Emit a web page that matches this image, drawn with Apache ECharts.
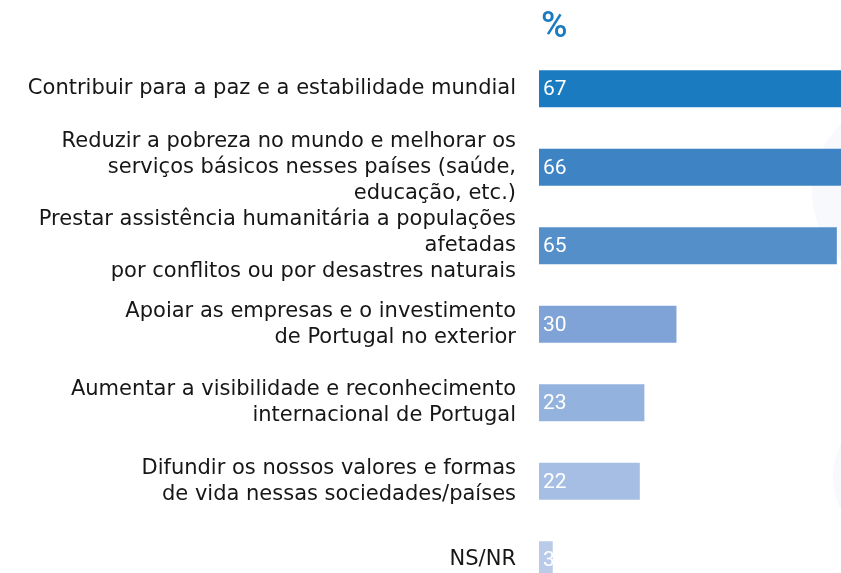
<!DOCTYPE html>
<html>
<head>
<meta charset="utf-8">
<script src="https://cdn.jsdelivr.net/npm/echarts@6/dist/echarts.min.js"></script>
<style>
  html, body { margin: 0; padding: 0; background: #fff; }
  #chart { width: 841px; height: 573px; }
</style>
</head>
<body>
<div id="chart"></div>
<script>
var categories = [
  'Contribuir para a paz e a estabilidade mundial',
  'Reduzir a pobreza no mundo e melhorar os\nserviços básicos nesses países (saúde,\neducação, etc.)',
  'Prestar assistência humanitária a populações\nafetadas\npor conflitos ou por desastres naturais',
  'Apoiar as empresas e o investimento\nde Portugal no exterior',
  'Aumentar a visibilidade e reconhecimento\ninternacional de Portugal',
  'Difundir os nossos valores e formas\nde vida nessas sociedades/países',
  'NS/NR'
];
var values = [67, 66, 65, 30, 23, 22, 3];
var barColors = ['#1a7bc1', '#3e83c4', '#558fca', '#7fa3d6', '#93b2dd', '#a6bee3', '#bacbe9'];

var chart = echarts.init(document.getElementById('chart'));

chart.setOption({
  animation: false,
  title: {
    text: '%',
    left: 536,
    top: 5,
    textStyle: { color: '#1a7bc1', fontSize: 36, fontWeight: 500, fontFamily: 'Roboto' }
  },
  // faint decorative circles on the right edge
  graphic: [
    { type: 'circle', z: -10, shape: { cx: 905, cy: 192, r: 93 }, style: { fill: '#f7f9fc' } },
    { type: 'circle', z: -10, shape: { cx: 905, cy: 477, r: 72 }, style: { fill: '#f7f9fc' } }
  ],
  grid: { left: 539, top: 49.5, width: 307, height: 549.5, outerBoundsMode: 'none' },
  xAxis: {
    type: 'value',
    min: 0,
    max: 67,
    show: false
  },
  yAxis: {
    type: 'category',
    inverse: true,
    data: categories,
    axisLine: { show: false },
    axisTick: { show: false },
    axisLabel: {
      margin: 23,
      color: '#161616',
      fontSize: 21,
      lineHeight: 26,
      fontFamily: 'DejaVu Sans',
      align: 'right'
    }
  },
  series: [{
    type: 'bar',
    barWidth: 37,
    clip: false,
    data: values.map(function (v, i) {
      return { value: v, itemStyle: { color: barColors[i] } };
    }),
    label: {
      show: true,
      position: 'insideLeft',
      offset: [-1, 1],
      color: '#ffffff',
      fontSize: 21,
      fontFamily: 'Roboto'
    }
  }]
});
</script>
</body>
</html>
